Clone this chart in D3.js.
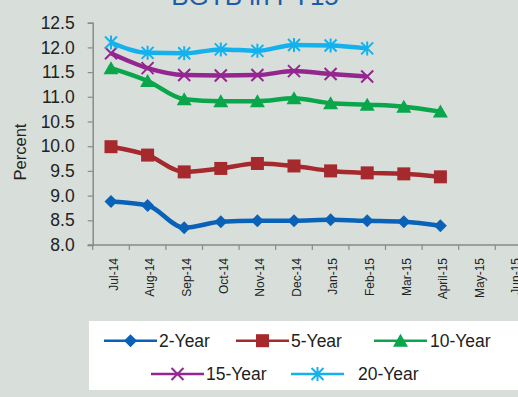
<!DOCTYPE html>
<html><head><meta charset="utf-8">
<script src="https://cdn.jsdelivr.net/npm/d3@7"></script>
<style>html,body{margin:0;padding:0;background:#d8dfda;}svg{display:block;font-family:"Liberation Sans",Arial,sans-serif;}</style>
</head><body>
<script>
const categories = ["Jul-14","Aug-14","Sep-14","Oct-14","Nov-14","Dec-14","Jan-15","Feb-15","Mar-15","April-15","May-15","Jun-15"];
const yTicks = [8.0,8.5,9.0,9.5,10.0,10.5,11.0,11.5,12.0,12.5];
const seriesNames = ["2-Year","5-Year","10-Year","15-Year","20-Year"];
const y2 = [8.88,8.80,8.35,8.47,8.49,8.49,8.51,8.49,8.47,8.39];
const y5 = [9.99,9.82,9.48,9.55,9.65,9.60,9.50,9.46,9.44,9.38];
const y10 = [11.58,11.32,10.95,10.91,10.91,10.97,10.87,10.84,10.80,10.70];
const y15 = [11.88,11.58,11.44,11.43,11.44,11.52,11.46,11.41];
const y20 = [12.10,11.89,11.88,11.96,11.93,12.05,12.04,11.98];
const colors = ["#0a62b8","#a6292e","#0aa64c","#93278f","#14b1ec"];
const symbols = ["diamond","square","triangle","x","asterisk"];
const title = "BGTB in FY15";
const yLabel = "Percent";

const W=518,H=397;
const svg=d3.select("body").append("svg").attr("width",W).attr("height",H);
svg.append("rect").attr("width",W).attr("height",H).attr("fill","#d8dfda");

const x=d3.scaleBand().domain(categories).range([92.7,92.7+36.6*12]).padding(0);
const y=d3.scaleLinear().domain([8,12.5]).range([245,22.7]);

svg.append("text").attr("x",255).attr("y",4.5).attr("text-anchor","middle")
  .attr("font-size",26).attr("fill","#1c5ca9").text(title);

// y axis
const ya=svg.append("g").attr("transform","translate(92.7,0)")
  .call(d3.axisLeft(y).tickValues(yTicks).tickFormat(d3.format(".1f")).tickSize(5).tickPadding(13));
ya.select(".domain").attr("stroke","#8a8a8a").attr("stroke-width",1.5);
ya.selectAll(".tick line").attr("stroke","#8a8a8a").attr("stroke-width",1.2);
ya.selectAll("text").attr("font-size",17.5).attr("fill","#222").attr("font-family","Liberation Sans, Arial, sans-serif");

// x axis
const xa=svg.append("g").attr("transform","translate(0,245)");
xa.append("line").attr("x1",87.7).attr("x2",W).attr("y1",0).attr("y2",0).attr("stroke","#8a8a8a").attr("stroke-width",1.5);
xa.selectAll("line.t").data(categories.concat(["end"])).enter().append("line")
  .attr("x1",(d,i)=>92.7+36.6*i).attr("x2",(d,i)=>92.7+36.6*i).attr("y1",0).attr("y2",5)
  .attr("stroke","#8a8a8a").attr("stroke-width",1.2);
xa.selectAll("text").data(categories).enter().append("text")
  .attr("transform",d=>`translate(${x(d)+x.bandwidth()/2+2.5},13) rotate(-90)`)
  .attr("text-anchor","end").attr("dy","0.35em").attr("font-size",12).attr("fill","#222").text(d=>d);

svg.append("text").attr("transform","translate(20,152) rotate(-90)").attr("text-anchor","middle")
  .attr("dy","0.35em").attr("font-size",16.5).attr("fill","#222").text(yLabel);

function marker(g,type,color,cx,cy,s){
  if(type==="diamond"){
    g.append("path").attr("d",`M${cx},${cy-6.5}L${cx+6.5},${cy}L${cx},${cy+6.5}L${cx-6.5},${cy}Z`).attr("fill",color);
  } else if(type==="square"){
    g.append("rect").attr("x",cx-6.5).attr("y",cy-6.5).attr("width",13).attr("height",13).attr("fill",color);
  } else if(type==="triangle"){
    g.append("path").attr("d",`M${cx},${cy-7}L${cx+7.5},${cy+6}L${cx-7.5},${cy+6}Z`).attr("fill",color);
  } else if(type==="x"){
    g.append("path").attr("d",`M${cx-6},${cy-6}L${cx+6},${cy+6}M${cx+6},${cy-6}L${cx-6},${cy+6}`).attr("stroke",color).attr("stroke-width",2);
  } else {
    g.append("path").attr("d",`M${cx-6},${cy-6}L${cx+6},${cy+6}M${cx+6},${cy-6}L${cx-6},${cy+6}M${cx},${cy-7}L${cx},${cy+7}`).attr("stroke",color).attr("stroke-width",2);
  }
}

const allSeries=[y2,y5,y10,y15,y20];
const line=d3.line().x((d,i)=>x(categories[i])+x.bandwidth()/2).y(d=>y(d)).curve(d3.curveMonotoneX);
allSeries.forEach((vals,si)=>{
  const g=svg.append("g");
  g.append("path").datum(vals).attr("d",line).attr("fill","none").attr("stroke",colors[si]).attr("stroke-width",4.5).attr("stroke-linejoin","round");
  vals.forEach((v,i)=>marker(g,symbols[si],colors[si],x(categories[i])+x.bandwidth()/2,y(v)));
});

// legend
svg.append("rect").attr("x",89).attr("y",321).attr("width",W-89).attr("height",69).attr("fill","#fff");
const legPos=[[104,340.7,159],[236,340.7,291],[374,340.7,430],[151,374,206],[291,374,358]];
seriesNames.forEach((n,i)=>{
  const [lx,ly,tx]=legPos[i];
  const g=svg.append("g");
  g.append("line").attr("x1",lx).attr("x2",lx+53).attr("y1",ly).attr("y2",ly).attr("stroke",colors[i]).attr("stroke-width",2.5);
  marker(g,symbols[i],colors[i],lx+26.5,ly);
  g.append("text").attr("x",tx).attr("y",ly).attr("dy","0.35em").attr("font-size",17.5).attr("fill","#222").text(n);
});
</script>
</body></html>
